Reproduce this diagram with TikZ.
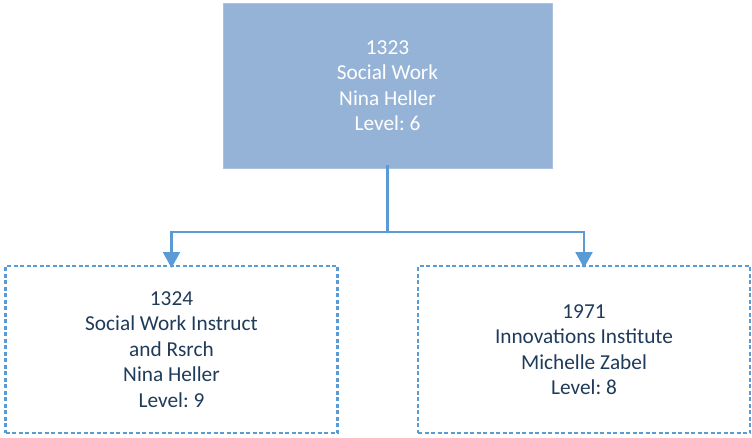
\documentclass[tikz,border=0pt]{standalone}
\usepackage{fontspec}
\setmainfont{Carlito}
\usetikzlibrary{arrows.meta}
\definecolor{topfill}{HTML}{95B3D7}
\definecolor{linkblue}{HTML}{5B9BD5}
\definecolor{textblue}{HTML}{1F3B5A}
\frenchspacing
\begin{document}
\begin{tikzpicture}[x=1pt,y=-1pt,
  every node/.style={inner sep=0pt,outer sep=0pt,align=center,font=\fontsize{21.3}{25.5}\selectfont},
  topbox/.style={fill=topfill,draw=topfill!80!white,line width=0.6pt,text=white,minimum width=329pt,minimum height=165pt},
  childbox/.style={draw=linkblue,line width=2.2pt,dash pattern=on 4pt off 2.5pt,text=textblue,minimum width=332pt,minimum height=167pt},
  link/.style={draw=linkblue,line width=2.2pt},
  tip/.style={-{Triangle[width=17pt,length=16pt]}}]
\useasboundingbox (0,0) rectangle (752,437);
\node[topbox] (top) at (387.5,85.5) {1323\\Social Work\\Nina Heller\\Level: 6};
\node[childbox] (left) at (171.5,349.5) {1324\\Social Work Instruct\\and Rsrch\\Nina Heller\\Level: 9};
\node[childbox] (right) at (584,349.5) {1971\\Innovations Institute\\Michelle Zabel\\Level: 8};
\coordinate (split) at (387.5,232);
\draw[link] ([yshift=3pt]top.south) -- (split);
\draw[link,tip] (split) -| ([yshift=-2pt]left.north);
\draw[link,tip] (split) -| ([yshift=-2pt]right.north);
\end{tikzpicture}
\end{document}
